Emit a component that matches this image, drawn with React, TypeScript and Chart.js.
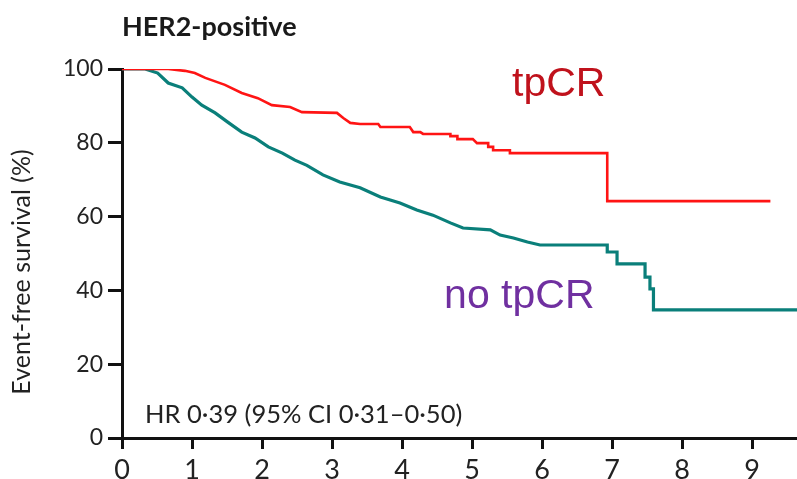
import React, { useEffect, useRef } from "react";
import { Chart, registerables } from "chart.js";

Chart.register(...registerables);

// ---- data ----
const tpcrTime = [0, 0.66, 0.9, 1.04, 1.19, 1.47, 1.71, 1.94, 2.14, 2.4, 2.57, 3.07, 3.16, 3.26, 3.4, 3.66, 3.69, 4.11, 4.16, 4.26, 4.3, 4.69, 4.69, 4.79, 4.79, 5.01, 5.07, 5.23, 5.23, 5.3, 5.3, 5.54, 5.54, 6.93, 6.93, 9.26];
const tpcrSurv = [100, 100, 99.5, 98.9, 97.6, 95.7, 93.5, 92.1, 90.2, 89.7, 88.3, 88.1, 86.7, 85.4, 85.1, 85.1, 84.3, 84.3, 82.9, 82.9, 82.4, 82.4, 81.8, 81.8, 81.0, 81.0, 79.9, 79.9, 78.9, 78.9, 78.0, 78.0, 77.2, 77.2, 64.2, 64.2];

const noTpcrTime = [0, 0.33, 0.51, 0.66, 0.86, 1.0, 1.14, 1.33, 1.51, 1.71, 1.9, 2.09, 2.29, 2.47, 2.64, 2.87, 3.11, 3.4, 3.69, 3.97, 4.21, 4.44, 4.69, 4.87, 5.26, 5.4, 5.59, 5.79, 5.97, 6.93, 6.93, 7.07, 7.07, 7.47, 7.47, 7.54, 7.54, 7.59, 7.59, 9.64];
const noTpcrSurv = [100, 100, 98.9, 96.2, 94.9, 92.4, 90.2, 88.1, 85.6, 82.9, 81.3, 78.9, 77.2, 75.3, 73.9, 71.3, 69.4, 67.8, 65.3, 63.7, 61.8, 60.4, 58.3, 56.9, 56.4, 55.0, 54.2, 53.1, 52.3, 52.3, 50.4, 50.4, 47.2, 47.2, 43.6, 43.6, 40.4, 40.4, 34.7, 34.7];

const xMin = 0;
const xMax = 9.64;
const xStep = 1;
const yMin = 0;
const yMax = 100;
const yStep = 20;

const titleText = "HER2-positive";
const yAxisLabel = "Event-free survival (%)";
const hrText = "HR 0·39 (95% CI 0·31–0·50)";
const groupLabels = ["tpCR", "no tpCR"];

const W = 797;
const H = 479;

const textPlugin = {
  id: "textAnnotations",
  afterDraw(chart: any) {
    const ctx = chart.ctx;
    const area = chart.chartArea;
    const xs = chart.scales.x;
    const ys = chart.scales.y;
    ctx.save();
    // Title
    ctx.fillStyle = "#1a1a1a";
    ctx.font = "bold 27px Lato";
    ctx.textAlign = "left";
    ctx.textBaseline = "alphabetic";
    ctx.fillText(titleText, area.left, 36);
    // Y axis title
    ctx.save();
    ctx.translate(30, 272);
    ctx.rotate(-Math.PI / 2);
    ctx.textAlign = "center";
    ctx.textBaseline = "alphabetic";
    ctx.font = "25px Lato";
    ctx.fillStyle = "#222";
    ctx.fillText(yAxisLabel, 0, 0);
    ctx.restore();
    // Group labels
    ctx.font = "41px 'Liberation Sans'";
    ctx.textAlign = "left";
    ctx.textBaseline = "alphabetic";
    ctx.fillStyle = "#c0121c";
    ctx.fillText(groupLabels[0], xs.getPixelForValue(5.57), ys.getPixelForValue(92.6));
    ctx.fillStyle = "#7030a0";
    ctx.fillText(groupLabels[1], xs.getPixelForValue(4.6), ys.getPixelForValue(35.2));
    // HR text
    ctx.font = "25.5px Lato";
    ctx.fillStyle = "#222";
    ctx.fillText(hrText, xs.getPixelForValue(0.33), ys.getPixelForValue(4.2));
    ctx.restore();
  },
};

export default function App() {
  const canvasRef = useRef<HTMLCanvasElement | null>(null);

  useEffect(() => {
    const canvas = canvasRef.current;
    if (!canvas) return;
    const chart = new Chart(canvas, {
      type: "line",
      data: {
        datasets: [
          {
            label: groupLabels[0],
            data: tpcrTime.map((t, i) => ({ x: t, y: tpcrSurv[i] })),
            borderColor: "#ff1414",
            borderWidth: 2.6,
            pointRadius: 0,
            tension: 0,
            fill: false,
          },
          {
            label: groupLabels[1],
            data: noTpcrTime.map((t, i) => ({ x: t, y: noTpcrSurv[i] })),
            borderColor: "#0a7f7a",
            borderWidth: 3.2,
            pointRadius: 0,
            tension: 0,
            fill: false,
          },
        ],
      },
      options: {
        animation: false,
        responsive: false,
        maintainAspectRatio: false,
        layout: { padding: { top: 69, left: 0, right: 0, bottom: 0 } },
        plugins: { legend: { display: false }, tooltip: { enabled: false }, title: { display: false } },
        scales: {
          x: {
            type: "linear",
            min: xMin,
            max: xMax,
            afterFit: (s: any) => {
              s.height = 41;
            },
            ticks: {
              stepSize: xStep,
              includeBounds: false,
              autoSkip: false,
              maxRotation: 0,
              color: "#222",
              padding: 5,
              font: { family: "Lato", size: 27 },
            },
            grid: {
              drawOnChartArea: false,
              drawTicks: true,
              tickLength: 11,
              tickWidth: 3,
              tickColor: "#111",
            },
            border: { display: true, color: "#111", width: 3 },
          },
          y: {
            type: "linear",
            min: yMin,
            max: yMax,
            afterFit: (s: any) => {
              s.width = 122;
            },
            ticks: {
              stepSize: yStep,
              includeBounds: false,
              color: "#222",
              padding: 5,
              font: { family: "Lato", size: 23 },
            },
            grid: {
              drawOnChartArea: false,
              drawTicks: true,
              tickLength: 14,
              tickWidth: 3,
              tickColor: "#111",
            },
            border: { display: true, color: "#111", width: 3 },
          },
        },
      },
      plugins: [textPlugin],
    });
    return () => chart.destroy();
  }, []);

  return (
    <div style={{ position: "fixed", left: 0, top: 0, width: W, height: H, overflow: "hidden", background: "#fff" }}>
      <canvas ref={canvasRef} width={W} height={H} style={{ width: W, height: H, display: "block" }} />
    </div>
  );
}
